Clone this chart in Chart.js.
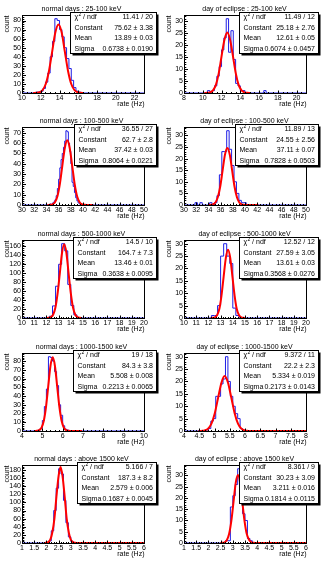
<!DOCTYPE html>
<html>
<head>
<meta charset="utf-8">
<script src="https://cdn.jsdelivr.net/npm/chart.js@4.4.0/dist/chart.umd.min.js"></script>
<style>
  html, body { margin: 0; padding: 0; background: #fff; }
  #wrap { position: relative; width: 327px; height: 563px; overflow: hidden; }
  canvas { position: absolute; }
</style>
</head>
<body>
<div id="wrap"></div>
<script>
const titles = [
  'normal days : 25-100 keV', 'day of eclipse : 25-100 keV',
  'normal days : 100-500 keV', 'day of eclipse : 100-500 keV',
  'normal days : 500-1000 keV', 'day of eclipse : 500-1000 keV',
  'normal days : 1000-1500 keV', 'day of eclipse : 1000-1500 keV',
  'normal days : above 1500 keV', 'day of eclipse : above 1500 keV'
];

// axis ranges and tick steps
const xMins = [10, 8, 30, 30, 10, 10, 4, 4, 1, 1];
const xMaxs = [23, 21, 50, 50, 20, 20, 10, 8, 6, 6];
const xSteps = [2, 2, 2, 2, 1, 1, 1, 0.5, 0.5, 0.5];
const xMinors = [0.5, 0.5, 0.5, 0.5, 0.2, 0.2, 0.2, 0.1, 0.1, 0.1];
const ySteps = [10, 5, 10, 5, 20, 5, 10, 5, 20, 5];
const yMinors = [2, 1, 2, 1, 4, 1, 2, 1, 4, 1];

// histogram bins: first edge, bin width, counts
const binLo = [11.5, 10.5, 34.6, 31.8, 12.0, 12.25, 4.8, 4.8, 2.0, 2.7];
const binW = [0.25, 0.25, 0.2, 0.4, 0.25, 0.25, 0.1, 0.08, 0.1, 0.1];
const counts1 = [1, 1, 2, 5, 12, 22, 40, 57, 82, 80, 70, 62, 50, 38, 27, 14, 6, 2, 1];
const counts2 = [1, 0, 1, 3, 7, 11, 18, 23, 31, 17, 26, 14, 4, 3, 1, 1, 0, 0, 0, 0, 0, 0, 0, 0, 1];
const counts3 = [1, 0, 2, 3, 5, 9, 16, 25, 36, 44, 50, 56, 62, 72, 71, 60, 52, 40, 22, 18, 12, 7, 4, 2, 1, 1];
const counts4 = [1, 0, 1, 0, 0, 0, 1, 0, 1, 4, 13, 23, 23, 32, 24, 17, 10, 5, 2, 1, 1];
const counts5 = [1, 4, 27, 71, 120, 166, 150, 75, 28, 7, 1];
const counts6 = [1, 1, 5, 25, 30, 25, 22, 4, 1];
const counts7 = [1, 3, 12, 28, 48, 85, 84, 80, 68, 52, 30, 18, 6, 2, 1];
const counts8 = [1, 4, 5, 14, 14, 19, 21, 30, 20, 14, 10, 7, 5, 1];
const counts9 = [1, 5, 30, 80, 135, 183, 170, 105, 50, 15, 4, 1];
const counts10 = [1, 1, 16, 21, 26, 33, 20, 13, 10, 2, 1];
const allCounts = [counts1, counts2, counts3, counts4, counts5, counts6, counts7, counts8, counts9, counts10];

// gaussian fit curves [x, y]
const fit1 = [[11.19,0],[11.53,0.2],[11.87,0.8],[12.20,3.3],[12.54,10.2],[12.88,24.6],[13.22,45.9],[13.55,66.7],[13.89,75.6],[14.23,66.7],[14.56,45.9],[14.90,24.6],[15.24,10.2],[15.58,3.3],[15.91,0.8],[16.25,0.2],[16.59,0]];
const fit2 = [[10.18,0],[10.48,0.06],[10.79,0.28],[11.09,1.1],[11.40,3.4],[11.70,8.2],[12.00,15.3],[12.31,22.2],[12.61,25.2],[12.91,22.2],[13.22,15.3],[13.52,8.2],[13.82,3.4],[14.13,1.1],[14.43,0.28],[14.74,0.06],[15.04,0]];
const fit3 = [[34.19,0],[34.60,0.14],[35.00,0.70],[35.40,2.75],[35.81,8.48],[36.21,20.4],[36.61,38.0],[37.02,55.3],[37.42,62.7],[37.82,55.3],[38.23,38.0],[38.63,20.4],[39.03,8.48],[39.44,2.75],[39.84,0.70],[40.24,0.14],[40.65,0],[41.7,0]];
const fit4 = [[33.98,0],[34.37,0.05],[34.76,0.27],[35.15,1.08],[35.54,3.32],[35.94,7.97],[36.33,14.9],[36.72,21.7],[37.11,24.55],[37.50,21.7],[37.89,14.9],[38.28,7.97],[38.68,3.32],[39.07,1.08],[39.46,0.27],[39.85,0.05],[40.24,0],[42.2,0]];
const fit5 = [[12.0,0.05],[12.19,0.36],[12.37,1.83],[12.55,7.23],[12.73,22.3],[12.91,53.5],[13.10,99.9],[13.28,145.3],[13.46,164.7],[13.64,145.3],[13.82,99.9],[14.01,53.5],[14.19,22.3],[14.37,7.23],[14.55,1.83],[14.73,0.36],[14.92,0.05]];
const fit6 = [[12.18,0.01],[12.36,0.06],[12.54,0.31],[12.72,1.21],[12.90,3.73],[13.07,8.96],[13.25,16.7],[13.43,24.3],[13.61,27.6],[13.79,24.3],[13.97,16.7],[14.15,8.96],[14.32,3.73],[14.50,1.21],[14.68,0.31],[14.86,0.06],[15.04,0.01]];
const fit7 = [[4.62,0.03],[4.73,0.19],[4.84,0.94],[4.96,3.70],[5.07,11.4],[5.18,27.4],[5.29,51.1],[5.40,74.4],[5.51,84.3],[5.62,74.4],[5.73,51.1],[5.84,27.4],[5.95,11.4],[6.06,3.70],[6.17,0.94],[6.28,0.19],[6.39,0.03],[6.95,0]];
const fit8 = [[4.47,0.01],[4.57,0.05],[4.68,0.25],[4.79,0.97],[4.90,3.00],[5.01,7.21],[5.12,13.5],[5.23,19.6],[5.33,22.2],[5.44,19.6],[5.55,13.5],[5.66,7.21],[5.77,3.00],[5.88,0.97],[5.99,0.25],[6.10,0.05],[6.20,0.01],[8,0]];
const fit9 = [[1.90,0.06],[1.99,0.41],[2.07,2.08],[2.16,8.22],[2.24,25.3],[2.33,60.8],[2.41,113.6],[2.50,165.3],[2.58,187.3],[2.66,165.3],[2.75,113.6],[2.83,60.8],[2.92,25.3],[3.00,8.22],[3.09,2.08],[3.17,0.41],[3.25,0.06],[6,0]];
const fit10 = [[2.49,0.01],[2.58,0.07],[2.67,0.34],[2.76,1.33],[2.85,4.09],[2.94,9.82],[3.03,18.3],[3.12,26.7],[3.21,30.2],[3.30,26.7],[3.39,18.3],[3.48,9.82],[3.57,4.09],[3.67,1.33],[3.76,0.34],[3.85,0.07],[3.94,0.01],[6,0]];
const allFits = [fit1, fit2, fit3, fit4, fit5, fit6, fit7, fit8, fit9, fit10];

// stat box texts
const chi2s = ['11.41 / 20', '11.49 / 12', '36.55 / 27', '11.89 / 13', '14.5 / 10', '12.52 / 12', '19 / 18', '9.372 / 11', '5.166 / 7', '8.361 / 9'];
const constants = ['75.62 \u00b1 3.38', '25.18 \u00b1 2.76', '62.7 \u00b1 2.8', '24.55 \u00b1 2.56', '164.7 \u00b1 7.3', '27.59 \u00b1 3.05', '84.3 \u00b1 3.8', '22.2 \u00b1 2.3', '187.3 \u00b1 8.2', '30.23 \u00b1 3.09'];
const means = ['13.89 \u00b1 0.03', '12.61 \u00b1 0.05', '37.42 \u00b1 0.03', '37.11 \u00b1 0.07', '13.46 \u00b1 0.01', '13.61 \u00b1 0.03', '5.508 \u00b1 0.008', '5.334 \u00b1 0.019', '2.579 \u00b1 0.006', '3.211 \u00b1 0.016'];
const sigmas = ['0.6738 \u00b1 0.0190', '0.6074 \u00b1 0.0457', '0.8064 \u00b1 0.0221', '0.7828 \u00b1 0.0503', '0.3638 \u00b1 0.0095', '0.3568 \u00b1 0.0276', '0.2213 \u00b1 0.0065', '0.2173 \u00b1 0.0143', '0.1687 \u00b1 0.0045', '0.1814 \u00b1 0.0115'];
const statLeft = [70, 77, 74, 73, 73, 77, 73, 77, 77, 77];

const FONT = '"Liberation Sans", Arial, sans-serif';
const rowTops = [0, 112, 225, 338, 450];
const PAD_H = 113;

function fmt(v) {
  return String(parseFloat(v.toFixed(3)));
}

const rootPad = {
  id: 'rootPad',
  afterDraw(chart) {
    const i = chart.options.plugins.rootPad.index;
    const ctx = chart.ctx;
    const a = chart.chartArea;
    const sx = chart.scales.x, sy = chart.scales.y;
    const L = Math.round(a.left) + 0.5, R = Math.round(a.right) + 0.5;
    const T = Math.round(a.top) + 0.5, B = Math.round(a.bottom) + 0.5;
    ctx.save();
    ctx.strokeStyle = '#000';
    ctx.lineWidth = 1;
    ctx.strokeRect(L, T, R - L, B - T);

    // x ticks (pointing inward)
    ctx.beginPath();
    const nx = Math.floor((xMaxs[i] - xMins[i]) / xMinors[i] + 1e-6);
    for (let k = 0; k <= nx; k++) {
      const v = xMins[i] + k * xMinors[i];
      const px = Math.round(sx.getPixelForValue(v)) + 0.5;
      const r = v / xSteps[i];
      const major = Math.abs(r - Math.round(r)) < 1e-6;
      ctx.moveTo(px, B);
      ctx.lineTo(px, B - (major ? 3 : 1.5));
    }
    // y ticks
    const yMax = sy.max;
    for (let v = 0; v <= yMax + 1e-9; v += yMinors[i]) {
      const py = Math.round(sy.getPixelForValue(v)) + 0.5;
      const r = v / ySteps[i];
      const major = Math.abs(r - Math.round(r)) < 1e-6;
      ctx.moveTo(L, py);
      ctx.lineTo(L + (major ? 3.5 : 1.8), py);
    }
    ctx.stroke();

    ctx.fillStyle = '#000';
    ctx.font = '7px ' + FONT;
    // x labels
    ctx.textAlign = 'center';
    ctx.textBaseline = 'top';
    const nmaj = Math.floor((xMaxs[i] - xMins[i]) / xSteps[i] + 1e-6);
    for (let k = 0; k <= nmaj; k++) {
      const v = xMins[i] + k * xSteps[i];
      ctx.fillText(fmt(v), sx.getPixelForValue(v), B + 1.5);
    }
    // y labels
    ctx.textAlign = 'right';
    ctx.textBaseline = 'middle';
    for (let v = 0; v <= yMax + 1e-9; v += ySteps[i]) {
      ctx.fillText(fmt(v), L - 1.5, sy.getPixelForValue(v));
    }
    // axis titles
    ctx.fillText('rate (Hz)', R, B + 10.5);
    ctx.save();
    ctx.translate(7, T);
    ctx.rotate(-Math.PI / 2);
    ctx.textAlign = 'right';
    ctx.fillText('count', 0, 0);
    ctx.restore();

    // title
    ctx.textAlign = 'center';
    ctx.fillText(titles[i], chart.width / 2, 9);

    // stat box
    const x0 = statLeft[i] + 0.5, x1 = 156.5, y0 = 12.5, y1 = 53.5;
    ctx.fillStyle = '#000';
    ctx.fillRect(x0 + 2, y0 + 2, x1 - x0, y1 - y0);
    ctx.fillStyle = '#fff';
    ctx.fillRect(x0, y0, x1 - x0, y1 - y0);
    ctx.strokeRect(x0, y0, x1 - x0, y1 - y0);
    ctx.fillStyle = '#000';
    const rows = [17, 27.8, 38.3, 48.7];
    const vals = [chi2s[i], constants[i], means[i], sigmas[i]];
    ctx.textAlign = 'left';
    ctx.fillText('\u03c7', x0 + 4, rows[0]);
    const cw = ctx.measureText('\u03c7').width;
    ctx.font = '5px ' + FONT;
    ctx.fillText('2', x0 + 4 + cw + 0.3, rows[0] - 2.5);
    ctx.font = '7px ' + FONT;
    ctx.fillText(' / ndf', x0 + 4 + cw + 3, rows[0]);
    ctx.fillText('Constant', x0 + 4, rows[1]);
    ctx.fillText('Mean', x0 + 4, rows[2]);
    ctx.fillText('Sigma', x0 + 4, rows[3]);
    ctx.textAlign = 'right';
    for (let r = 0; r < 4; r++) ctx.fillText(vals[r], x1 - 3.5, rows[r]);
    ctx.restore();
  }
};

const wrap = document.getElementById('wrap');
for (let i = 0; i < 10; i++) {
  const col = i % 2, row = Math.floor(i / 2);
  const w = col === 0 ? 163 : 165;
  const canvas = document.createElement('canvas');
  canvas.width = w;
  canvas.height = PAD_H;
  canvas.style.left = (col === 0 ? 0 : 162) + 'px';
  canvas.style.top = rowTops[row] + 'px';
  wrap.appendChild(canvas);

  const c = allCounts[i];
  const hist = [{ x: xMins[i], y: 0 }];
  c.forEach((n, k) => hist.push({ x: binLo[i] + k * binW[i], y: n }));
  hist.push({ x: binLo[i] + c.length * binW[i], y: 0 });
  hist.push({ x: xMaxs[i], y: 0 });
  const fit = allFits[i].map(p => ({ x: p[0], y: p[1] }));

  new Chart(canvas, {
    type: 'line',
    data: {
      datasets: [
        {
          data: fit,
          borderColor: 'rgb(255,0,0)',
          borderWidth: 2,
          pointRadius: 0,
          cubicInterpolationMode: 'monotone',
          fill: false
        },
        {
          data: hist,
          borderColor: 'rgb(30,30,230)',
          borderWidth: 1,
          pointRadius: 0,
          stepped: true,
          fill: false
        }
      ]
    },
    options: {
      responsive: false,
      devicePixelRatio: 1,
      animation: false,
      events: [],
      layout: { padding: { left: 22, top: 15, right: w - 144, bottom: PAD_H - 93 } },
      scales: {
        x: { type: 'linear', min: xMins[i], max: xMaxs[i], display: false },
        y: { type: 'linear', min: 0, max: 1.05 * Math.max(...c), display: false }
      },
      plugins: {
        legend: { display: false },
        tooltip: { enabled: false },
        rootPad: { index: i }
      }
    },
    plugins: [rootPad]
  });
}
</script>
</body>
</html>
